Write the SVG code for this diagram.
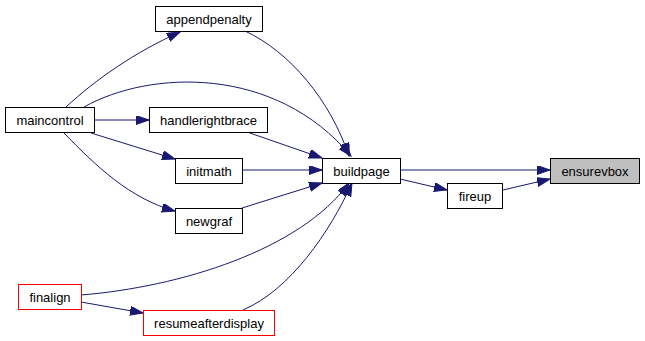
<svg xmlns="http://www.w3.org/2000/svg" width="645" height="341" viewBox="0 0 645 341">
  <defs>
    <style>
      .node rect { fill: #ffffff; stroke: #000000; stroke-width: 1; }
      .node.red rect { stroke: #ff0000; }
      .node.current rect { fill: #bfbfbf; stroke: #000000; }
      .node text { font-family: "Liberation Sans", Arial, sans-serif; font-size: 13px; fill: #000000; text-anchor: middle; }
      .edge { fill: none; stroke: #191970; stroke-width: 1; marker-end: url(#arrow); }
    </style>
    <marker id="arrow" markerUnits="userSpaceOnUse" markerWidth="14" markerHeight="10" refX="13" refY="4.5" orient="auto">
      <path d="M0,0 L13,4.5 L0,9 z" fill="#191970" stroke="#191970" stroke-width="1"/>
    </marker>
  </defs>
  <rect width="645" height="341" fill="#ffffff"/>

  <g id="edges">
    <path class="edge" d="M66,107 C95,80 135,52 180,32"/>
    <path class="edge" d="M84,107 C150,70 275,65 351,156"/>
    <path class="edge" d="M95,120 L149,120"/>
    <path class="edge" d="M91,133 L175,159"/>
    <path class="edge" d="M64,133 C95,165 130,199 175,211"/>
    <path class="edge" d="M245,31 C290,52 330,100 349,156"/>
    <path class="edge" d="M247,132 L322,158"/>
    <path class="edge" d="M242,170 L322,170"/>
    <path class="edge" d="M242,208 L322,183"/>
    <path class="edge" d="M81,295 C180,287 300,250 349,183"/>
    <path class="edge" d="M81,302 L143,313"/>
    <path class="edge" d="M243,310 C290,290 330,232 352,183"/>
    <path class="edge" d="M400,170 L550,170"/>
    <path class="edge" d="M400,179 L447,190"/>
    <path class="edge" d="M503,190 L550,179"/>
  </g>

  <g id="appendpenalty" class="node">
    <rect x="155.5" y="6.5" width="107" height="25"/>
    <text x="209" y="23.5">appendpenalty</text>
  </g>
  <g id="maincontrol" class="node">
    <rect x="5.5" y="107.5" width="89" height="25"/>
    <text x="50" y="124.5">maincontrol</text>
  </g>
  <g id="handlerightbrace" class="node">
    <rect x="149.5" y="107.5" width="118" height="25"/>
    <text x="208.5" y="124.5">handlerightbrace</text>
  </g>
  <g id="initmath" class="node">
    <rect x="175.5" y="158.5" width="67" height="25"/>
    <text x="209" y="175.5">initmath</text>
  </g>
  <g id="newgraf" class="node">
    <rect x="175.5" y="208.5" width="67" height="25"/>
    <text x="209" y="225.5">newgraf</text>
  </g>
  <g id="finalign" class="node red">
    <rect x="18.5" y="284.5" width="63" height="25"/>
    <text x="50" y="301.5">finalign</text>
  </g>
  <g id="resumeafterdisplay" class="node red">
    <rect x="143.5" y="310.5" width="131" height="25"/>
    <text x="209" y="327.5">resumeafterdisplay</text>
  </g>
  <g id="buildpage" class="node">
    <rect x="322.5" y="158.5" width="78" height="25"/>
    <text x="361.5" y="175.5">buildpage</text>
  </g>
  <g id="fireup" class="node">
    <rect x="447.5" y="183.5" width="55" height="25"/>
    <text x="475" y="200.5">fireup</text>
  </g>
  <g id="ensurevbox" class="node current">
    <rect x="550.5" y="158.5" width="89" height="25"/>
    <text x="595" y="175.5">ensurevbox</text>
  </g>
</svg>
